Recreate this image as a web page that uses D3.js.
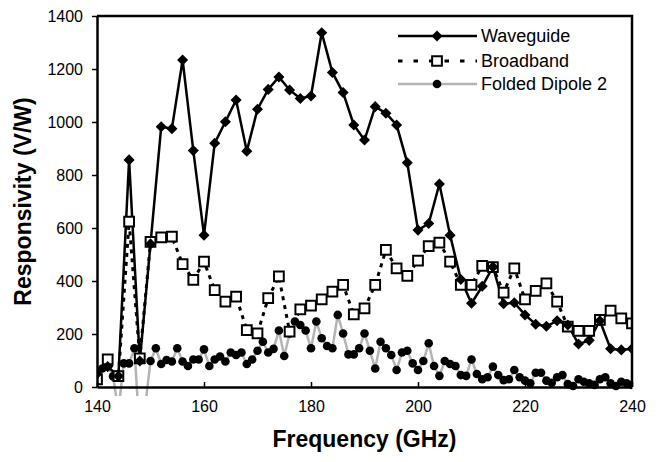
<!DOCTYPE html>
<html>
<head>
<meta charset="utf-8">
<script src="https://cdn.jsdelivr.net/npm/d3@7"></script>
<style>
  body { margin: 0; background: #fff; }
  text { font-family: 'Liberation Sans', Arial, sans-serif; fill: #000; }
</style>
</head>
<body>
<svg class="chart" width="662" height="462"></svg>
<script>
// frequency (GHz) for the two 2 GHz-step series
const freq2 = d3.range(140, 241, 2);
// frequency (GHz) for the 1 GHz-step dipole series
const freq1 = d3.range(140, 241, 1);

const waveguide = [
  50, 77, 41, 857, 98, 540, 982, 975, 1234, 892,
  573, 920, 1001, 1083, 890, 1048, 1123, 1170, 1121, 1089,
  1098, 1337, 1187, 1111, 989, 932, 1058, 1033, 989, 846,
  592, 617, 766, 573, 406, 316, 380, 453, 314, 318,
  272, 237, 229, 250, 234, 162, 176, 250, 144, 140,
  144,
];

const broadband = [
  29, 104, 41, 624, 108, 548, 565, 567, 464, 404,
  473, 366, 322, 341, 215, 202, 335, 417, 209, 293,
  307, 331, 360, 385, 274, 297, 385, 517, 448, 419,
  477, 532, 545, 473, 385, 385, 457, 452, 356, 448,
  331, 363, 391, 322, 228, 212, 212, 253, 288, 259,
  240,
];

const dipole = [
  50, 70, 80, 40, -90, 89, 89, 146, -185, -74,
  98, 146, 87, 102, 96, 146, 96, 79, 104, 104,
  142, 79, 104, 115, 96, 130, 121, 130, 87, 104,
  137, 171, 130, 144, 213, 117, 202, 247, 234, 213,
  146, 247, 184, 155, 146, 272, 202, 123, 123, 146,
  202, 137, 70, 171, 146, 121, 64, 130, 137, 89,
  64, 98, 165, 79, 42, 98, 87, 79, 45, 42,
  104, 49, 29, 37, 77, 45, 26, 29, 64, 37,
  24, 14, 54, 54, 24, 16, 37, 45, 11, 4,
  29, 20, 14, 8, 29, 37, 14, 4, 20, 14,
  8,
];

const xTicks = [140, 160, 180, 200, 220, 240];
const yTicks = [0, 200, 400, 600, 800, 1000, 1200, 1400];

const margin = { top: 16, right: 30, bottom: 75, left: 97 };
const width = 662;
const height = 462;

const svg = d3.select('.chart');

const x = d3.scaleLinear()
  .domain([140, 240])
  .range([margin.left, width - margin.right]);

const y = d3.scaleLinear()
  .domain([0, 1400])
  .range([height - margin.bottom, margin.top]);

// clip: the dipole dips below zero, Excel lets it run a few px past the axis
svg.append('clipPath')
  .attr('id', 'clip')
  .append('rect')
  .attr('x', x(140))
  .attr('y', y(1400))
  .attr('width', x(240) - x(140))
  .attr('height', y(0) - y(1400) + 9);

const plot = svg.append('g').attr('clip-path', 'url(#clip)');

// folded dipole 2: grey line + black dots
const dipoleData = freq1.map((f, i) => ({ f, v: dipole[i] }));

plot.append('path')
  .datum(dipoleData)
  .attr('fill', 'none')
  .attr('stroke', '#b4b4b4')
  .attr('stroke-width', 2.5)
  .attr('d', d3.line().x((d) => x(d.f)).y((d) => y(d.v)));

plot.selectAll('.dot')
  .data(dipoleData.filter((d) => d.v >= 0))
  .enter()
  .append('circle')
  .attr('class', 'dot')
  .attr('cx', (d) => x(d.f))
  .attr('cy', (d) => y(d.v))
  .attr('r', 4.3);

// broadband: dashed line + open squares
const bbData = freq2.map((f, i) => ({ f, v: broadband[i] }));

plot.append('path')
  .datum(bbData)
  .attr('fill', 'none')
  .attr('stroke', '#000')
  .attr('stroke-width', 3)
  .attr('stroke-dasharray', '4,5')
  .attr('d', d3.line().x((d) => x(d.f)).y((d) => y(d.v)));

// waveguide: solid line + diamonds
const wgData = freq2.map((f, i) => ({ f, v: waveguide[i] }));

plot.append('path')
  .datum(wgData)
  .attr('fill', 'none')
  .attr('stroke', '#000')
  .attr('stroke-width', 2.5)
  .attr('d', d3.line().x((d) => x(d.f)).y((d) => y(d.v)));

const diamond = d3.symbol().type(d3.symbolDiamond2).size(78);
const square = d3.symbol().type(d3.symbolSquare).size(95);

plot.selectAll('.sq')
  .data(bbData)
  .enter()
  .append('path')
  .attr('class', 'sq')
  .attr('d', square)
  .attr('transform', (d) => `translate(${x(d.f)},${y(d.v)})`)
  .attr('fill', '#fff')
  .attr('stroke', '#000')
  .attr('stroke-width', 2);

plot.selectAll('.dia')
  .data(wgData)
  .enter()
  .append('path')
  .attr('class', 'dia')
  .attr('d', diamond)
  .attr('transform', (d) => `translate(${x(d.f)},${y(d.v)})`)
  .attr('fill', '#000');

// axes
const xAxis = svg.append('g')
  .attr('transform', `translate(0,${y(0)})`)
  .call(d3.axisBottom(x).tickValues(xTicks).tickSizeInner(-5).tickSizeOuter(0).tickPadding(14));

const yAxis = svg.append('g')
  .attr('transform', `translate(${x(140)},0)`)
  .call(d3.axisLeft(y).tickValues(yTicks).tickFormat(d3.format('d'))
    .tickSizeInner(5).tickSizeOuter(0).tickPadding(9));

[xAxis, yAxis].forEach((g) => {
  g.select('.domain').attr('stroke-width', 2.5);
  g.selectAll('.tick line').attr('stroke-width', 1.5);
  g.selectAll('.tick text').attr('font-size', 16).attr('font-family', null);
});

// top and right frame
svg.append('path')
  .attr('d', `M${x(140)},${y(1400)}H${x(240)}V${y(0)}`)
  .attr('fill', 'none')
  .attr('stroke', '#000')
  .attr('stroke-width', 2.5);

// axis titles
svg.append('text')
  .attr('x', (x(140) + x(240)) / 2)
  .attr('y', 447)
  .attr('text-anchor', 'middle')
  .attr('font-size', 23)
  .attr('font-weight', 'bold')
  .text('Frequency (GHz)');

svg.append('text')
  .attr('transform', `translate(31,${(y(0) + y(1400)) / 2}) rotate(-90)`)
  .attr('text-anchor', 'middle')
  .attr('font-size', 23)
  .attr('font-weight', 'bold')
  .text('Responsivity (V/W)');

// legend
const legend = [
  { name: 'Waveguide', y: 36 },
  { name: 'Broadband', y: 61 },
  { name: 'Folded Dipole 2', y: 84 },
];

const lg = svg.selectAll('.legend')
  .data(legend)
  .enter()
  .append('g')
  .attr('class', 'legend')
  .attr('transform', (d) => `translate(398,${d.y})`);

lg.append('line')
  .attr('x1', 0)
  .attr('x2', 79)
  .attr('stroke', (d, i) => (i === 2 ? '#b4b4b4' : '#000'))
  .attr('stroke-width', (d, i) => (i === 1 ? 3 : 2.5))
  .attr('stroke-dasharray', (d, i) => (i === 1 ? '4.5,11' : null));

lg.filter((d, i) => i === 0).append('path')
  .attr('d', diamond)
  .attr('transform', 'translate(39,0)');

lg.filter((d, i) => i === 1).append('path')
  .attr('d', square)
  .attr('transform', 'translate(39,0)')
  .attr('fill', '#fff')
  .attr('stroke', '#000')
  .attr('stroke-width', 2);

lg.filter((d, i) => i === 2).append('circle')
  .attr('cx', 39)
  .attr('r', 4.3);

lg.append('text')
  .attr('x', 83)
  .attr('dy', '0.35em')
  .attr('font-size', 18)
  .text((d) => d.name);
</script>
</body>
</html>
